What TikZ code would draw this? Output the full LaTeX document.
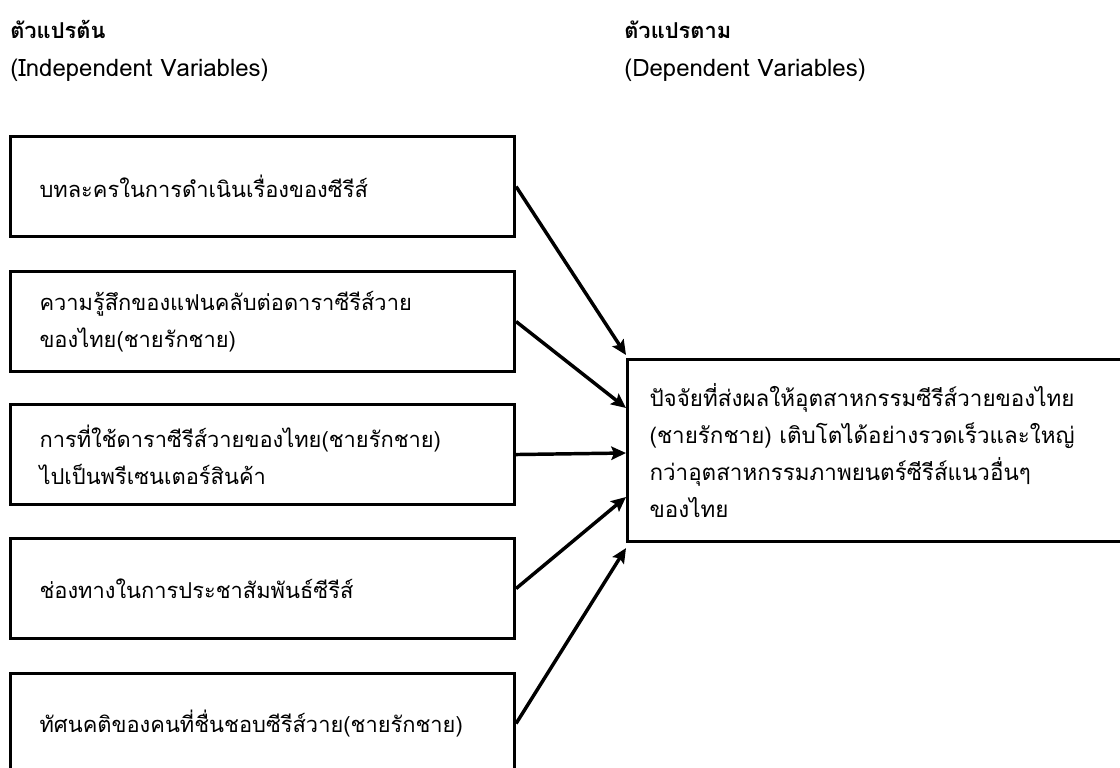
\documentclass[tikz,border=0pt]{standalone}
\usepackage{fontspec}
\setmainfont[Script=Thai]{Loma}
\usetikzlibrary{arrows.meta}
\tikzset{
  lbox/.style={draw=black, line width=2.3pt, anchor=north west, minimum width=378pt, minimum height=75pt,
    inner xsep=21.75pt, inner ysep=0pt, text width=334.5pt, align=left,
    font=\fontsize{16.4}{27.75}\selectfont},
  rbox/.style={draw=black, line width=2.3pt, anchor=north west, minimum width=390pt, minimum height=136.5pt,
    inner xsep=16.5pt, inner ysep=0pt, text width=357pt, align=left,
    font=\fontsize{16.8}{27.75}\selectfont},
  headth/.style={anchor=base west, inner sep=0pt, font=\fontsize{16.4}{28}\selectfont\bfseries},
  headen/.style={anchor=base west, inner sep=0pt, font=\fontsize{18}{28}\selectfont},
  conn/.style={line width=2.6pt, draw=black, -{Stealth[length=11pt,width=10pt,inset=2pt]}}
}
\begin{document}
\begin{tikzpicture}[x=0.75pt,y=-0.75pt]
\useasboundingbox (0,0) rectangle (1120,767);
% headers
\node[headth] (h1) at (10,39) {ตัวแปรต้น};
\node[headen] (h2) at (10,77) {(Independent Variables)};
\node[headth] (h3) at (624,39) {ตัวแปรตาม};
\node[headen] (h4) at (624,77) {(Dependent Variables)};
% left boxes
\node[lbox] (b1) at (9,135) {บทละครในการดำเนินเรื่องของซีรีส์};
\node[lbox] (b2) at (9,270) {ความรู้สึกของแฟนคลับต่อดาราซีรีส์วาย\\ของไทย(ชายรักชาย)};
\node[lbox] (b3) at (9,403) {การที่ใช้ดาราซีรีส์วายของไทย(ชายรักชาย)\\ไปเป็นพรีเซนเตอร์สินค้า};
\node[lbox] (b4) at (9,537) {ช่องทางในการประชาสัมพันธ์ซีรีส์};
\node[lbox] (b5) at (9,672) {ทัศนคติของคนที่ชื่นชอบซีรีส์วาย(ชายรักชาย)};
% right box
\node[rbox] (r) at (626,358) {ปัจจัยที่ส่งผลให้อุตสาหกรรมซีรีส์วายของไทย\\(ชายรักชาย) เติบโตได้อย่างรวดเร็วและใหญ่\\กว่าอุตสาหกรรมภาพยนตร์ซีรีส์แนวอื่นๆ\\ของไทย};
% arrow targets
\path (r.north west) ++(0,-3) coordinate (t1);
\path (r.north west) ++(0,50) coordinate (t2);
\path (r.north west) ++(0,95) coordinate (t3);
\path (r.north west) ++(0,139) coordinate (t4);
\path (r.south west) ++(0,5) coordinate (t5);
\draw[conn] (b1.east) -- (t1);
\draw[conn] (b2.east) -- (t2);
\draw[conn] (b3.east) -- (t3);
\draw[conn] (b4.east) -- (t4);
\draw[conn] (b5.east) -- (t5);
\end{tikzpicture}
\end{document}
